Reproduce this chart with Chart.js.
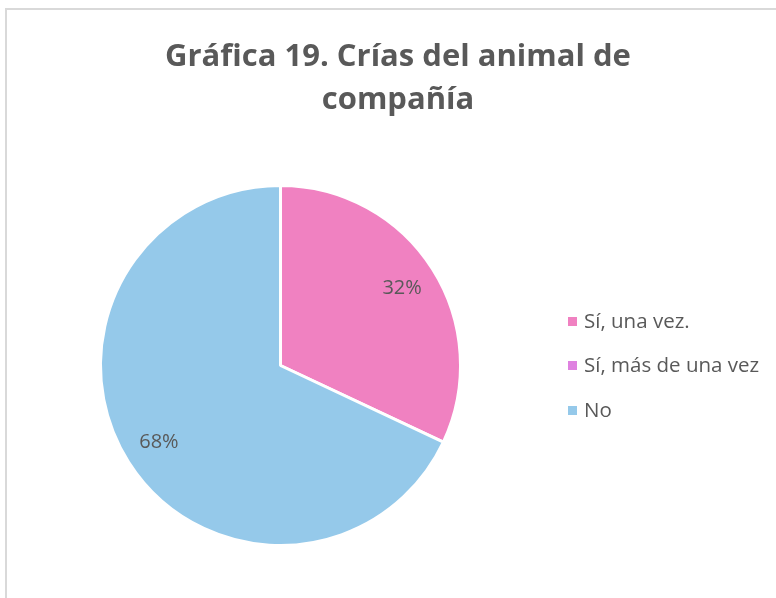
<!DOCTYPE html>
<html>
<head>
<meta charset="utf-8">
<script src="https://cdn.jsdelivr.net/npm/chart.js@4.4.1/dist/chart.umd.min.js"></script>
<style>
  html, body { margin: 0; padding: 0; background: #fff; }
  #wrap { position: relative; width: 776px; height: 598px; }
  #frame { position: absolute; left: 5px; top: 8px; width: 800px; height: 700px;
           border-left: 2px solid #d9d9d9; border-top: 2px solid #d9d9d9; }
  canvas { position: absolute; left: 0; top: 0; }
</style>
</head>
<body>
<div id="wrap">
  <div id="frame"></div>
  <canvas id="chart" width="776" height="598"></canvas>
</div>
<script>
const titleLines = ['Gráfica 19. Crías del animal de', 'compañía'];
const categories = ['Sí, una vez.', 'Sí, más de una vez', 'No'];
const percentages = [32, 0, 68];
const sliceColors = ['#F081C1', '#DF82E0', '#95C9EA'];

const textColor = '#595959';
const fontFamily = '"Open Sans", "Liberation Sans", sans-serif';

// title, legend and percent labels drawn on the canvas
const decorations = {
  id: 'decorations',
  afterDraw(chart) {
    const ctx = chart.ctx;
    ctx.save();
    ctx.fillStyle = textColor;
    ctx.textAlign = 'center';
    ctx.textBaseline = 'middle';
    ctx.font = 'bold 31px ' + fontFamily;
    ctx.fillText(titleLines[0], 398, 57);
    ctx.fillText(titleLines[1], 398, 100);

    // data labels
    const meta = chart.getDatasetMeta(0);
    ctx.font = '20px ' + fontFamily;
    meta.data.forEach((arc, i) => {
      if (!percentages[i]) return;
      const mid = (arc.startAngle + arc.endAngle) / 2;
      const d = arc.outerRadius * 0.8;
      ctx.fillText(percentages[i] + '%', arc.x + Math.cos(mid) * d, arc.y + Math.sin(mid) * d);
    });

    // legend
    ctx.textAlign = 'left';
    ctx.font = '20.5px ' + fontFamily;
    const rowY = [321, 365, 410];
    categories.forEach((c, i) => {
      ctx.fillStyle = sliceColors[i];
      ctx.fillRect(568, rowY[i] - 4, 9, 9);
      ctx.fillStyle = textColor;
      ctx.fillText(c, 584, rowY[i] + 1);
    });
    ctx.restore();
  }
};

new Chart(document.getElementById('chart'), {
  type: 'pie',
  data: {
    labels: categories,
    datasets: [{
      data: percentages,
      backgroundColor: sliceColors,
      borderColor: '#ffffff',
      borderWidth: 3
    }]
  },
  options: {
    responsive: false,
    animation: false,
    layout: { padding: { left: 99, right: 314, top: 184, bottom: 51 } },
    plugins: {
      legend: { display: false },
      tooltip: { enabled: false }
    }
  },
  plugins: [decorations]
});
</script>
</body>
</html>
